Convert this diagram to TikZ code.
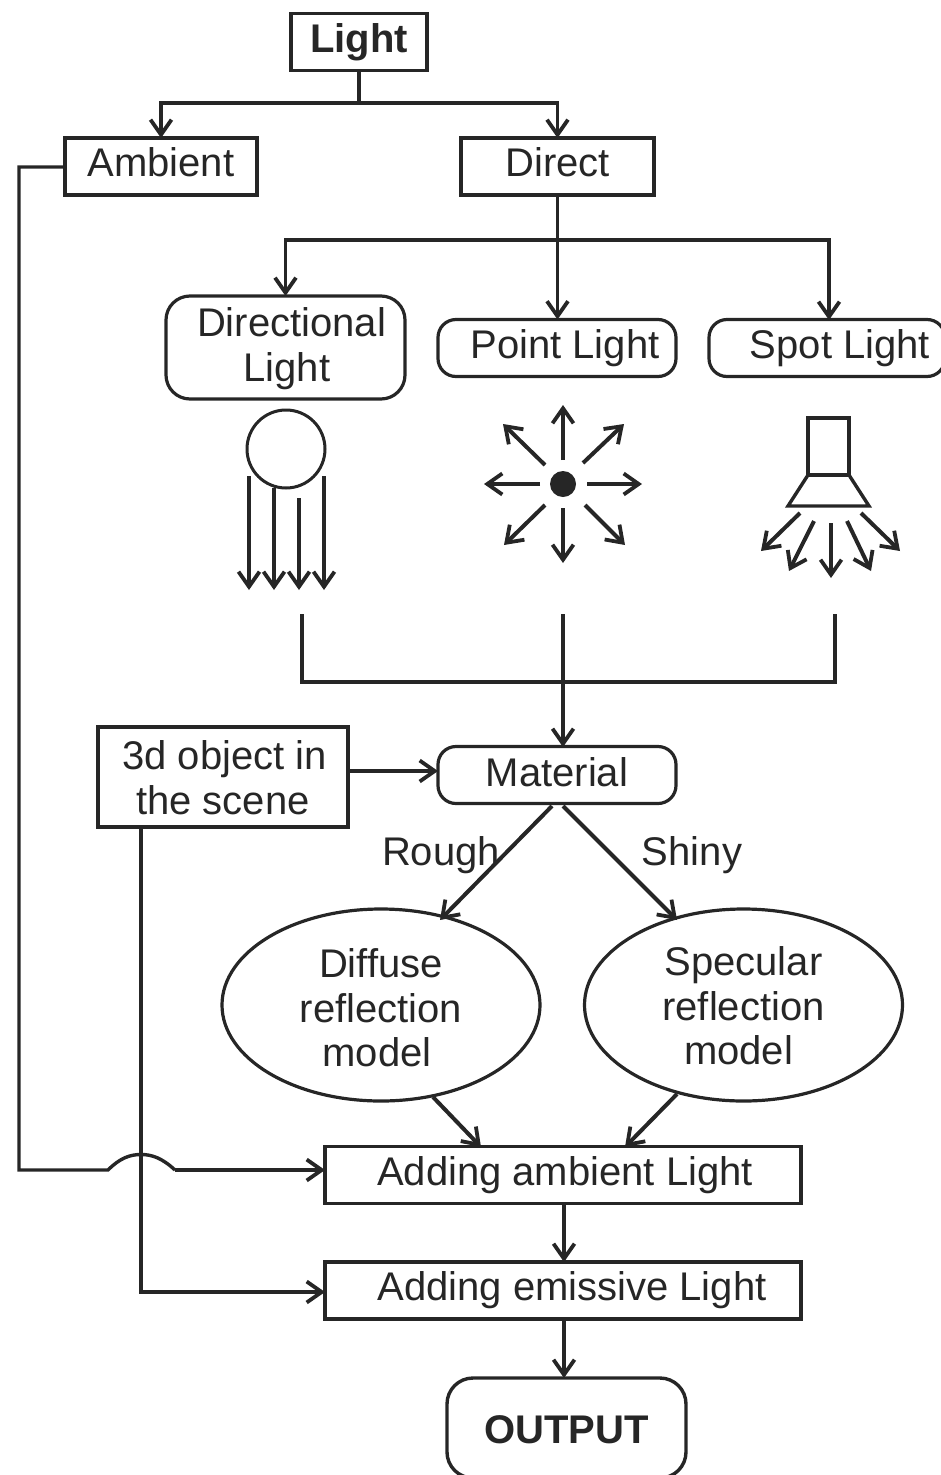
\documentclass[tikz,border=0pt]{standalone}
\usepackage{fontspec}
\setmainfont{Liberation Sans}
\usetikzlibrary{arrows.meta,shapes.geometric}
\definecolor{ink}{HTML}{262626}
\newcommand{\rs}[2]{\raisebox{#1}[\height][\depth]{#2}}
\tikzset{
  x=1pt,y=-1pt,
  >={Straight Barb[length=15pt,width=21pt,line width=3.8pt]},
  every node/.style={font=\fontsize{40}{45}\selectfont,text=ink,inner sep=0pt,outer sep=0pt,align=center},
  conn/.style={draw=ink,line width=3.4pt,line join=miter},
  slant/.style={conn,line width=4pt},
  sqbox/.style={draw=ink,line width=3.2pt,rectangle,minimum height=57pt},
  rbox/.style={draw=ink,line width=3.2pt,rectangle,rounded corners=18pt,minimum height=57pt},
  oval/.style={draw=ink,line width=3.2pt,ellipse,minimum width=318pt,minimum height=192pt},
  lbl/.style={}
}
\begin{document}
\begin{tikzpicture}
\useasboundingbox (0,0) rectangle (941,1475);
% nodes
\node[sqbox,line width=3.8pt,minimum width=136pt] (light) at (359,42) {\bfseries Light};
\node[sqbox,minimum width=192pt] (ambient) at (161,166.5) {\rs{4pt}{Ambient}};
\node[sqbox,minimum width=193pt] (direct) at (557.5,166.5) {\rs{4pt}{Direct}};
\node[rbox,minimum width=239pt,minimum height=103pt,rounded corners=24pt] (directional) at (285.5,347.5) {\hspace*{12pt}\rs{-1pt}{Directional}\\\hspace*{3pt}\rs{-1pt}{Light}};
\node[rbox,minimum width=238pt] (point) at (557,348) {\hspace*{16pt}Point Light};
\node[rbox,minimum width=236pt] (spot) at (827,348) {\hspace*{26pt}Spot Light};
\node[rbox,minimum width=238pt] (material) at (557,775) {\rs{3pt}{Material}};
\node[sqbox,minimum width=250pt,minimum height=100pt] (object) at (223,777) {\hspace*{3pt}\rs{-1pt}{3d object in}\\\rs{-1pt}{the scene}};
\node[oval] (diffuse) at (381,1005) {\rs{-3pt}{Diffuse}\\\rs{-3pt}{reflection}\\\hspace*{-8pt}\rs{-2pt}{model}};
\node[oval] (specular) at (743.5,1005) {\rs{-1pt}{Specular}\\\rs{-1pt}{reflection}\\\hspace*{-10pt}model};
\node[sqbox,minimum width=476pt] (addamb) at (563,1175) {\hspace*{4pt}Adding ambient Light};
\node[sqbox,minimum width=476pt] (addemi) at (563,1290.5) {\hspace*{18pt}Adding emissive Light};
\node[rbox,line width=3.4pt,minimum width=239pt,minimum height=100pt,rounded corners=26pt] (output) at (566.5,1428) {\rs{-2pt}{\bfseries OUTPUT}};
\node[lbl] (rough) at (441,855) {Rough};
\node[lbl] (shiny) at (692,855) {Shiny};
% junctions
\coordinate (lj) at (359,103);
\coordinate (dj) at (558,240);
\coordinate (dspot) at (829,320);
\coordinate (vx) at (564,0);
\coordinate (c1) at (302,614);
\coordinate (c2) at (563,614);
\coordinate (c3) at (835,614);
\coordinate (cy) at (563,682);
\coordinate (a1) at (19,167);
\coordinate (a2) at (19,1170);
\coordinate (b1) at (108,1170);
\coordinate (b2) at (175,1170);
\coordinate (aend) at (325,1170);
\coordinate (o1) at (141,827);
\coordinate (o2) at (141,1292);
\coordinate (oend) at (325,1292);
\coordinate (mt) at (563,747);
\coordinate (mr) at (438,771);
\coordinate (or) at (348,771);
% connectors
\draw[conn] (light.south) -- (lj);
\draw[conn,->] (lj) -| (ambient.north);
\draw[conn,->] (lj) -| (direct.north);
\draw[conn,->] (direct.south) -- (point.north -| direct.south);
\draw[conn,->] (dj) -| (directional.north);
\draw[conn,->] (dj) -| (dspot);
\draw[conn] (c1) |- (cy) -| (c3);
\draw[conn,->] (c2) -- (mt);
\draw[conn,->] (or) -- (mr);
\draw[conn] (ambient.west |- a1) -- (a1) -- (a2) -- (b1)
  .. controls (120,1158) and (130,1154.5) .. (141,1154.5)
  .. controls (152,1154.5) and (162,1158) .. (b2);
\draw[conn,->] (b2) -- (aend);
\draw[conn,->] (o1) -- (o2) -- (oend);
\draw[slant,->] (552,806) -- (440,920);
\draw[slant,->] (563,806) -- (677,920);
\draw[slant,->] (433,1097) -- (481,1147);
\draw[slant,->] (677,1094) -- (625,1147);
\draw[conn,->] (addamb.south -| vx) -- (addemi.north -| vx);
\draw[conn,->] (addemi.south -| vx) -- (output.north -| vx);
% directional icon
\draw[conn,line width=3pt] (286,449) circle (39);
\draw[conn,->] (249,476) -- (249,590);
\draw[conn,->] (274,488) -- (274,590);
\draw[conn,->] (299,498) -- (299,590);
\draw[conn,->] (324,476) -- (324,590);
% point icon
\fill[ink] (563,484) circle (13);
\draw[conn,->] (563,460) -- (563,405);
\draw[conn,->] (563,508) -- (563,563);
\draw[conn,->] (540,484) -- (484,484);
\draw[conn,->] (587,484) -- (642,484);
\draw[slant,->] (545,465) -- (503,424);
\draw[slant,->] (583,463) -- (624,424);
\draw[slant,->] (545,505) -- (504,545);
\draw[slant,->] (585,505) -- (625,545);
% spot icon
\draw[conn] (808,418) rectangle (849,475);
\draw[conn] (808,475) -- (788,506) -- (869,506) -- (849,475);
\draw[slant,->] (800,513) -- (761,551);
\draw[slant,->] (814,521) -- (789,571);
\draw[conn,->] (831,523) -- (831,578);
\draw[slant,->] (847,521) -- (871,571);
\draw[slant,->] (861,513) -- (900,551);
\end{tikzpicture}
\end{document}
